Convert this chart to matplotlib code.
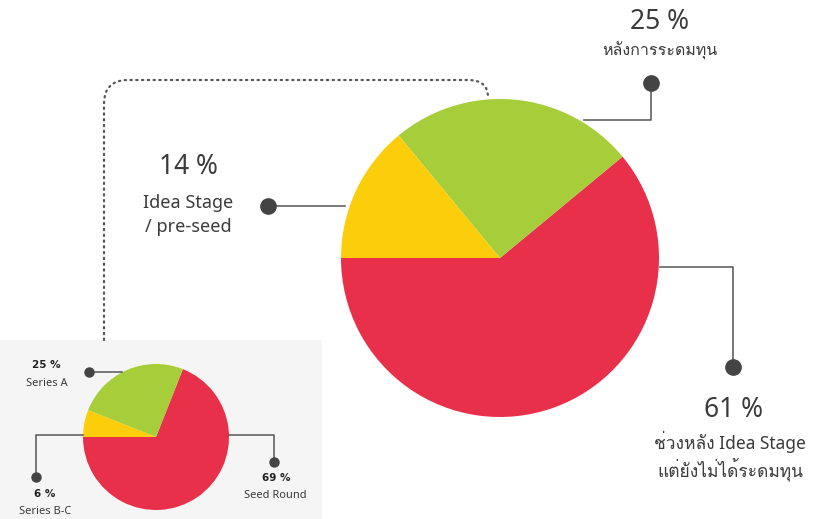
import matplotlib
matplotlib.use("Agg")
import matplotlib.pyplot as plt
from matplotlib import font_manager
from matplotlib.ft2font import FT2Font
from matplotlib.patches import Rectangle, PathPatch
from matplotlib.path import Path

# stage shares (big pie) and funding rounds (small pie)
stage_values = [61, 25, 14]
stage_colors = ["#e8304a", "#a6cd3a", "#fbcd0a"]
stage_pct = ["61 %", "25 %", "14 %"]
stage_names = ["ช่วงหลัง Idea Stage\nแต่ยังไม่ได้ระดมทุน", "หลังการระดมทุน", "Idea Stage\n/ pre-seed"]

round_values = [69, 25, 6]
round_colors = ["#e8304a", "#a6cd3a", "#fbcd0a"]
round_pct = ["69 %", "25 %", "6 %"]
round_names = ["Seed Round", "Series A", "Series B-C"]

W, H = 826, 519
TXT = "#3b3b3b"
LINE = "#555555"


def find_thai_font():
    # pick any installed face that covers the Thai block
    for f in font_manager.fontManager.ttflist:
        try:
            if 0x0E2B in FT2Font(f.fname).get_charmap():
                return f.name
        except Exception:
            pass
    return None


thai = find_thai_font()
fams = ["Noto Sans"] + ([thai] if thai else []) + ["DejaVu Sans"]
plt.rcParams["font.family"] = fams


def Y(y):
    return H - y


fig = plt.figure(figsize=(W / 100, H / 100), dpi=100)
ax = fig.add_axes([0, 0, 1, 1])

# light grey panel behind the small pie
ax.add_patch(Rectangle((0, Y(519)), 322, 519 - 340, color="#f5f5f5", zorder=0, lw=0))

# pies
ax.pie(stage_values, colors=stage_colors, startangle=180, counterclock=True,
       center=(500, Y(258)), radius=159, wedgeprops=dict(linewidth=0))
ax.pie(round_values, colors=round_colors, startangle=180, counterclock=True,
       center=(156, Y(437)), radius=73, wedgeprops=dict(linewidth=0))

# dotted connector between the two pies
r = 24
verts = [(104, Y(340)), (104, Y(80 + r)), (104, Y(80)), (104 + r, Y(80)),
         (468, Y(80)), (488, Y(80)), (488, Y(97))]
codes = [Path.MOVETO, Path.LINETO, Path.CURVE3, Path.CURVE3,
         Path.LINETO, Path.CURVE3, Path.CURVE3]
ax.add_patch(PathPatch(Path(verts, codes), fill=False, ec=LINE, lw=1.6,
                       linestyle=(0, (0.6, 2.0)), capstyle="round", zorder=3))


def leader(xs, ys, dot, size):
    ax.plot(xs, [Y(v) for v in ys], color=LINE, lw=1.1, zorder=3)
    ax.plot(dot[0], Y(dot[1]), "o", color="#444444", ms=size, zorder=4)


# big pie leaders
leader([660, 733, 733], [267, 267, 367], (733, 367), 11)
leader([584, 651, 651], [120, 120, 83], (651, 83), 11)
leader([268, 345], [206, 206], (268, 206), 11)

# small pie leaders
leader([229, 274, 274], [435, 435, 462], (274, 462), 6.5)
leader([89, 122], [372, 372], (89, 372), 6.5)
leader([83, 36, 36], [435, 435, 477], (36, 477), 6.5)

# big pie labels
ax.text(733, Y(410), stage_pct[0], fontsize=19, color=TXT, ha="center", va="center")
ax.text(730, Y(456), stage_names[0], fontsize=12.5, color=TXT, ha="center", va="center",
        linespacing=1.25)
ax.text(660, Y(22), stage_pct[1], fontsize=19, color=TXT, ha="center", va="center")
ax.text(660, Y(51), stage_names[1], fontsize=11.5, color=TXT, ha="center", va="center")
ax.text(188, Y(167), stage_pct[2], fontsize=19, color=TXT, ha="center", va="center")
ax.text(188, Y(215), stage_names[2], fontsize=13, color=TXT, ha="center", va="center",
        linespacing=1.45)

# small pie labels
small_bold = dict(fontsize=7.5, weight="bold", family="DejaVu Sans", color="#222222",
                  ha="center", va="center")
small = dict(fontsize=8, color=TXT, ha="center", va="center")
ax.text(276, Y(478), round_pct[0], **small_bold)
ax.text(275, Y(495), round_names[0], **small)
ax.text(46, Y(365), round_pct[1], **small_bold)
ax.text(47, Y(383), round_names[1], **small)
ax.text(45, Y(494), round_pct[2], **small_bold)
ax.text(45, Y(512), round_names[2], **small)

ax.set_xlim(0, W)
ax.set_ylim(0, H)
ax.set_aspect("equal")
ax.axis("off")

fig.savefig("out.png", dpi=100, facecolor="white")
